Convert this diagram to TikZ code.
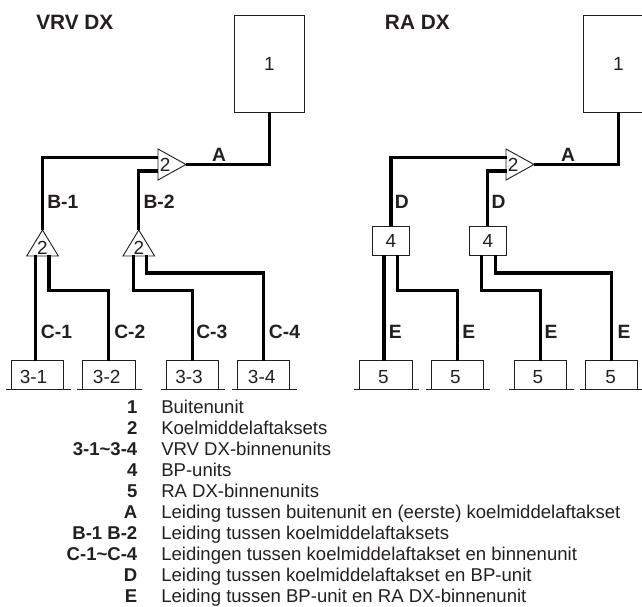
\documentclass[tikz,border=0pt]{standalone}
\usepackage{fontspec}
\setmainfont{Liberation Sans}
\usepackage{tikz}
\usetikzlibrary{shapes.geometric}

\definecolor{inktext}{HTML}{231F20}

\tikzset{
    pipe/.style={line width=2.4pt, line join=miter},
    thinline/.style={draw=inktext, line width=0.65pt},
    mainbox/.style={thinline, fill=white, inner sep=0pt, outer sep=0pt, minimum width=17.5mm, minimum height=24.1mm, font=\fontsize{13.5}{15}\selectfont, text=inktext},
    bpbox/.style={thinline, fill=white, inner sep=0pt, outer sep=0pt, minimum width=9.1mm, minimum height=7.25mm, font=\fontsize{13.5}{15}\selectfont, text=inktext},
    unitbox/.style={thinline, inner sep=0pt, outer sep=0pt, minimum width=13.1mm, minimum height=7.15mm},
    unittext/.style={inner sep=0pt, font=\fontsize{13.5}{15}\selectfont, text=inktext},
    tee/.style={thinline, fill=white, isosceles triangle, isosceles triangle stretches, inner sep=0pt, outer sep=0pt, font=\fontsize{13.5}{15}\selectfont, text=inktext},
    teeright/.style={tee, minimum height=7mm, minimum width=7.75mm},
    teeup/.style={tee, shape border rotate=90, minimum height=6.35mm, minimum width=7.9mm},
    pipelabel/.style={inner sep=0pt, font=\fontsize{13.7}{15}\selectfont\bfseries, text=inktext},
    titletext/.style={anchor=west, inner sep=0pt, font=\fontsize{14.8}{16}\selectfont\bfseries, text=inktext},
    keyname/.style={anchor=base east, inner sep=0pt, font=\fontsize{13.2}{15}\selectfont\bfseries, text=inktext},
    keytext/.style={anchor=base west, inner sep=0pt, font=\fontsize{13.2}{15}\selectfont, text=inktext}
}

\begin{document}
\begin{tikzpicture}[x=0.25mm, y=-0.25mm]
            \clip (0,0) rectangle (642,606);

            % left side
            \node[titletext] (vrvtitle) at (36,22) {VRV DX};
            \node[titletext] (ratitle) at (384.7,22) {RA DX};

            \node[mainbox] (outL) at (269.5,64) {1};
            \node[teeright, anchor=apex] (teeL) at (186,164.5) {2};
            \node[teeup, anchor=apex] (teeA) at (42.5,230) {2};
            \node[teeup, anchor=apex] (teeB) at (138.8,230) {2};

            \node[unitbox] (u31) at (37.3,375) {};
            \node[unitbox] (u32) at (108.8,375) {};
            \node[unitbox] (u33) at (192.2,375) {};
            \node[unitbox] (u34) at (263.3,375) {};

            \node[unittext] (t31) at (33.5,376.7) {3-1};
            \node[unittext] (t32) at (106.7,376.7) {3-2};
            \node[unittext] (t33) at (189,376.7) {3-3};
            \node[unittext] (t34) at (261.7,376.7) {3-4};

            \coordinate (LB1) at (158,157.7);
            \coordinate (LB2) at (158,171);
            \coordinate (A1) at (35.7,255.3);
            \coordinate (A2) at (49,255.3);
            \coordinate (B1) at (133.3,255.3);
            \coordinate (B2) at (146.7,255.3);

            \draw[pipe] (outL.south) |- (teeL.apex);
            \draw[pipe] (LB1) -| (teeA.apex);
            \draw[pipe] (LB2) -| (teeB.apex);
            \draw[pipe] (A1) -- (A1 |- u31.north);
            \draw[pipe] (A2) -- ++(0,35.4) -| (u32.north);
            \draw[pipe] (B1) -- ++(0,35.4) -| (u33.north);
            \draw[pipe] (B2) -- ++(0,17.7) -| (u34.north);

            \draw[thinline] (u31.south west) ++(-5.3,0) -- ++(64.7,0);
            \draw[thinline] (u32.south west) ++(-5.3,0) -- ++(64.7,0);
            \draw[thinline] (u33.south west) ++(-5.3,0) -- ++(64.7,0);
            \draw[thinline] (u34.south west) ++(-5.3,0) -- ++(64.7,0);

            \node[pipelabel] (labA) at (219,155) {A};
            \node[pipelabel, anchor=west] (labB1) at (47,202) {B-1};
            \node[pipelabel, anchor=west] (labB2) at (143.3,202) {B-2};
            \node[pipelabel, anchor=west] (labC1) at (40.7,331.7) {C-1};
            \node[pipelabel, anchor=west] (labC2) at (114,331.7) {C-2};
            \node[pipelabel, anchor=west] (labC3) at (196,331.7) {C-3};
            \node[pipelabel, anchor=west] (labC4) at (268.7,331.7) {C-4};

            % right side
            \node[mainbox] (outR) at (618.3,64) {1};
            \node[teeright, anchor=apex] (teeR) at (534,164.5) {2};
            \node[bpbox] (bpA) at (391,240.5) {4};
            \node[bpbox] (bpB) at (487.8,240.5) {4};

            \node[unitbox] (u51) at (385.8,375) {};
            \node[unitbox] (u52) at (457.2,375) {};
            \node[unitbox] (u53) at (540.5,375) {};
            \node[unitbox] (u54) at (611.7,375) {};

            \node[unittext] (t51) at (383.3,376.7) {5};
            \node[unittext] (t52) at (455.3,376.7) {5};
            \node[unittext] (t53) at (538,376.7) {5};
            \node[unittext] (t54) at (610.7,376.7) {5};

            \coordinate (RB1) at (507,157.7);
            \coordinate (RB2) at (507,171);
            \coordinate (C1) at (384,255);
            \coordinate (C2) at (397.3,255);
            \coordinate (D1) at (481.3,255);
            \coordinate (D2) at (495.3,255);

            \draw[pipe] (outR.south) |- (teeR.apex);
            \draw[pipe] (RB1) -| (bpA.north);
            \draw[pipe] (RB2) -| (bpB.north);
            \draw[pipe] (C1) -- (C1 |- u51.north);
            \draw[pipe] (C2) -- ++(0,35.7) -| (u52.north);
            \draw[pipe] (D1) -- ++(0,35.7) -| (u53.north);
            \draw[pipe] (D2) -- ++(0,18) -| (u54.north);

            \draw[thinline] (u51.south west) ++(-5.3,0) -- ++(64.7,0);
            \draw[thinline] (u52.south west) ++(-5.3,0) -- ++(64.7,0);
            \draw[thinline] (u53.south west) ++(-5.3,0) -- ++(64.7,0);
            \draw[thinline] (u54.south west) ++(-5.3,0) -- ++(64.7,0);

            \node[pipelabel] (labAr) at (568,155) {A};
            \node[pipelabel, anchor=west] (labD1) at (394.7,202) {D};
            \node[pipelabel, anchor=west] (labD2) at (491.3,202) {D};
            \node[pipelabel, anchor=west] (labE1) at (388.7,331.7) {E};
            \node[pipelabel, anchor=west] (labE2) at (462,331.7) {E};
            \node[pipelabel, anchor=west] (labE3) at (544.3,331.7) {E};
            \node[pipelabel, anchor=west] (labE4) at (617.3,331.7) {E};

            % legend
            \node[keyname] (k1) at (137.6,413.5) {1};
            \node[keyname] (k2) at (137.6,434.5) {2};
            \node[keyname] (k3) at (137.6,455.5) {3-1\char"7E\relax 3-4};
            \node[keyname] (k4) at (137.6,476.5) {4};
            \node[keyname] (k5) at (137.6,497.5) {5};
            \node[keyname] (k6) at (137.6,518.5) {A};
            \node[keyname] (k7) at (137.6,539.5) {B-1 B-2};
            \node[keyname] (k8) at (137.6,560.5) {C-1\char"7E\relax C-4};
            \node[keyname] (k9) at (137.6,581.5) {D};
            \node[keyname] (k10) at (137.6,602) {E};

            \node[keytext] (d1) at (161,413.5) {Buitenunit};
            \node[keytext] (d2) at (161,434.5) {Koelmiddelaftaksets};
            \node[keytext] (d3) at (161,455.5) {VRV DX-binnenunits};
            \node[keytext] (d4) at (161,476.5) {BP-units};
            \node[keytext] (d5) at (161,497.5) {RA DX-binnenunits};
            \node[keytext] (d6) at (161,518.5) {Leiding tussen buitenunit en (eerste) koelmiddelaftakset};
            \node[keytext] (d7) at (161,539.5) {Leiding tussen koelmiddelaftaksets};
            \node[keytext] (d8) at (161,560.5) {Leidingen tussen koelmiddelaftakset en binnenunit};
            \node[keytext] (d9) at (161,581.5) {Leiding tussen koelmiddelaftakset en BP-unit};
            \node[keytext] (d10) at (161,602) {Leiding tussen BP-unit en RA DX-binnenunit};
\end{tikzpicture}
\end{document}
